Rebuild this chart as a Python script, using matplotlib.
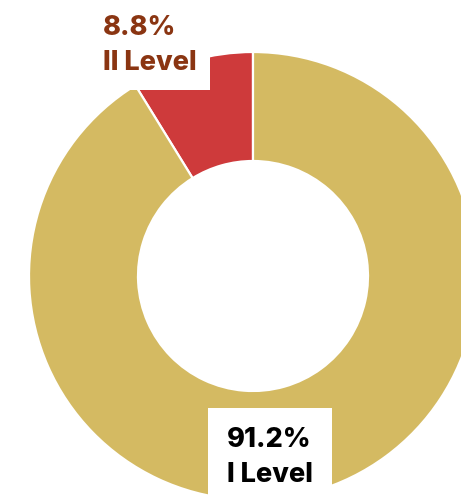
import matplotlib.pyplot as plt

# data
levels = ["II Level", "I Level"]
shares = [8.8, 91.2]
colors = ["#CE3A3B", "#D4BA62"]
label_colors = ["#8A3512", "#000000"]

W, H = 461, 495
fig = plt.figure(figsize=(W / 100, H / 100), dpi=100)
ax = fig.add_axes([0, 0, 1, 1])

wedges, _ = ax.pie(shares, colors=colors, startangle=90, counterclock=True,
                   center=(253, 219), radius=224,
                   wedgeprops=dict(width=109, edgecolor="white", linewidth=1.6),
                   frame=True)
ax.set_xlim(0, W)
ax.set_ylim(0, H)
ax.set_aspect("equal")
ax.axis("off")

font = dict(family=["Inter", "DejaVu Sans"], fontweight="heavy", fontsize=19.5)

# labels with white boxes, like the data labels in the original
ax.text(103, 480, "{:.1f}%\n{}".format(shares[0], levels[0]), color=label_colors[0],
        ha="left", va="top", linespacing=1.45, zorder=5,
        bbox=dict(boxstyle="square,pad=0.5", facecolor="white", edgecolor="none"),
        **font)
ax.text(227, 68, "{:.1f}%\n{}".format(shares[1], levels[1]), color=label_colors[1],
        ha="left", va="top", linespacing=1.45, zorder=5,
        bbox=dict(boxstyle="square,pad=0.7", facecolor="white", edgecolor="none"),
        **font)

fig.savefig("out.png", dpi=100)
